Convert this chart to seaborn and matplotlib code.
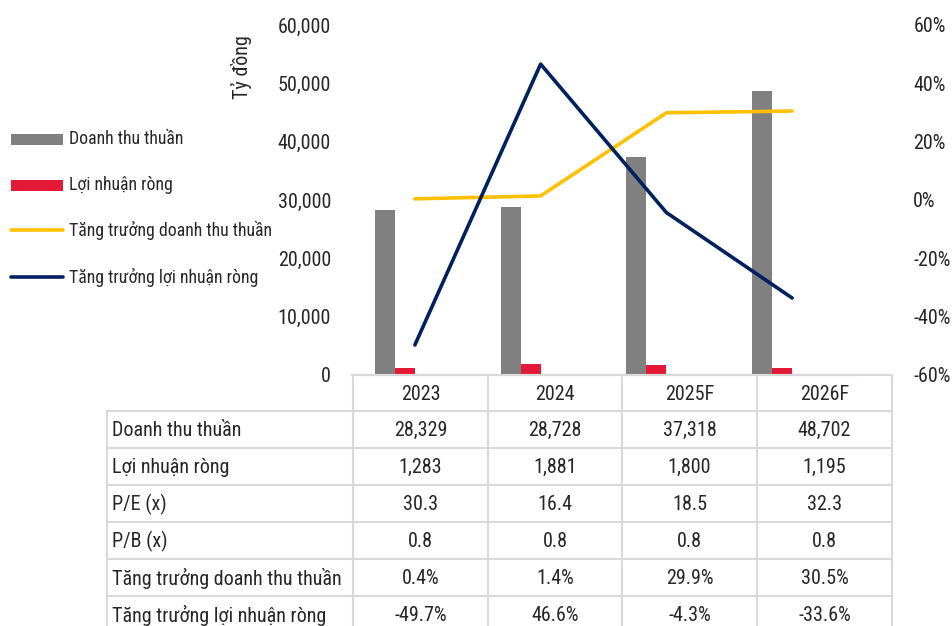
import matplotlib
matplotlib.use("Agg")
import matplotlib.pyplot as plt
import seaborn as sns
import pandas as pd
from matplotlib.patches import Rectangle
from matplotlib.lines import Line2D

# ---- data ----
years = ["2023", "2024", "2025F", "2026F"]
revenue = [28329, 28728, 37318, 48702]
profit = [1283, 1881, 1800, 1195]
pe = [30.3, 16.4, 18.5, 32.3]
pb = [0.8, 0.8, 0.8, 0.8]
rev_growth = [0.4, 1.4, 29.9, 30.5]
profit_growth = [-49.7, 46.6, -4.3, -33.6]
left_ticks = [0, 10000, 20000, 30000, 40000, 50000, 60000]
right_ticks = [-60, -40, -20, 0, 20, 40, 60]

lbl_rev = "Doanh thu thuần"
lbl_profit = "Lợi nhuận ròng"
lbl_rev_g = "Tăng trưởng doanh thu thuần"
lbl_profit_g = "Tăng trưởng lợi nhuận ròng"
row_labels = [lbl_rev, lbl_profit, "P/E (x)", "P/B (x)", lbl_rev_g, lbl_profit_g]

C_GRAY = "#808080"
C_RED = "#E31937"
C_YEL = "#FFC000"
C_NAVY = "#002060"
C_GRID = "#D9D9D9"

sns.set_theme(style="white")
FONT = ["Roboto Condensed", "DejaVu Sans"]
plt.rcParams["font.family"] = FONT
FS = 14.5
FS_LEG = 12.8

W, H = 953, 626
fig = plt.figure(figsize=(W / 100, H / 100), dpi=100)
fig.patch.set_facecolor("white")

x0, x1, ytop, ybot = 352, 855, 25, 375
ax = fig.add_axes([x0 / W, 1 - ybot / H, (x1 - x0) / W, (ybot - ytop) / H])

df = pd.DataFrame({
    "year": years * 4,
    "series": [lbl_rev] * 4 + [lbl_profit] * 4 + ["_a"] * 4 + ["_b"] * 4,
    "value": revenue + profit + [0] * 4 + [0] * 4,
})
sns.barplot(data=df, x="year", y="value", hue="series",
            hue_order=[lbl_rev, lbl_profit, "_a", "_b"],
            palette=[C_GRAY, C_RED, "white", "white"],
            width=0.635, gap=0, dodge=True, saturation=1, legend=False, ax=ax,
            linewidth=0)
ax.set_xlim(-0.5, 3.5)
ax.set_ylim(0, 60000)
ax.set_yticks(left_ticks)
ax.set_yticklabels([f"{v:,}" for v in left_ticks])
ax.tick_params(axis="y", length=0, pad=15, labelsize=FS)
ax.set_xticks([-0.5, 0.5, 1.5, 2.5, 3.5])
ax.set_xticklabels([])
ax.tick_params(axis="x", length=4, width=1.2, color=C_GRID, direction="out")
ax.set_xlabel("")
ax.set_ylabel("Tỷ đồng", fontsize=FS)
ax.yaxis.set_label_coords(-0.198, 0.88)
for s in ["top", "right", "left"]:
    ax.spines[s].set_visible(False)
ax.spines["bottom"].set_color(C_GRID)
ax.spines["bottom"].set_linewidth(1.5)

ax2 = ax.twinx()
xpos = list(range(len(years)))
sns.lineplot(x=xpos, y=[v / 100 for v in rev_growth], color=C_YEL, lw=2.6, ax=ax2,
             solid_capstyle="round")
sns.lineplot(x=xpos, y=[v / 100 for v in profit_growth], color=C_NAVY, lw=2.6, ax=ax2,
             solid_capstyle="round")
ax2.set_ylim(-0.6, 0.6)
ax2.set_yticks([v / 100 for v in right_ticks])
ax2.set_yticklabels([f"{v}%" for v in right_ticks], ha="left")
ax2.tick_params(axis="y", length=0, pad=42, labelsize=FS)
for s in ["top", "right", "left", "bottom"]:
    ax2.spines[s].set_visible(False)
ax2.set_xlim(-0.5, 3.5)

# ---- overlay in pixel coordinates for legend & table ----
ov = fig.add_axes([0, 0, 1, 1], zorder=5)
ov.set_xlim(0, W)
ov.set_ylim(H, 0)
ov.axis("off")
ov.patch.set_alpha(0)

# legend
leg_items = [(lbl_rev, "patch", C_GRAY, 139), (lbl_profit, "patch", C_RED, 185),
             (lbl_rev_g, "line", C_YEL, 230), (lbl_profit_g, "line", C_NAVY, 277)]
for text, kind, col, yy in leg_items:
    if kind == "patch":
        ov.add_patch(Rectangle((11, yy - 5.5), 52, 11, color=col, lw=0))
    else:
        ov.add_line(Line2D([11, 63], [yy, yy], color=col, lw=2.6, solid_capstyle="round"))
    ov.text(69, yy, text, fontsize=FS_LEG, va="center", ha="left")

# table
col_edges = [353, 488, 622, 757, 892]
lab_left = 107
row_edges = [375, 411, 448, 485, 522, 559, 596, 633]
lw_t = 1.5
ov.add_line(Line2D([col_edges[0], col_edges[-1]], [row_edges[0]] * 2, color=C_GRID, lw=lw_t))
for r in row_edges[1:]:
    ov.add_line(Line2D([lab_left, col_edges[-1]], [r, r], color=C_GRID, lw=lw_t))
for c in col_edges:
    ov.add_line(Line2D([c, c], [row_edges[0], H + 10], color=C_GRID, lw=lw_t))
ov.add_line(Line2D([lab_left, lab_left], [row_edges[1], H + 10], color=C_GRID, lw=lw_t))

for i, y in enumerate(years):
    cx = (col_edges[i] + col_edges[i + 1]) / 2
    ov.text(cx, (row_edges[0] + row_edges[1]) / 2 + 1, y, fontsize=FS, ha="center", va="center")

rows = [
    [f"{v:,}" for v in revenue],
    [f"{v:,}" for v in profit],
    [f"{v:.1f}" for v in pe],
    [f"{v:.1f}" for v in pb],
    [f"{v:.1f}%" for v in rev_growth],
    [f"{v:.1f}%" for v in profit_growth],
]
for r, (lab, vals) in enumerate(zip(row_labels, rows)):
    cy = (row_edges[r + 1] + row_edges[r + 2]) / 2 + 1
    ov.text(lab_left + 5, cy, lab, fontsize=FS, ha="left", va="center")
    for i, v in enumerate(vals):
        cx = (col_edges[i] + col_edges[i + 1]) / 2
        ov.text(cx, cy, v, fontsize=FS, ha="center", va="center")

fig.savefig("out.png", dpi=100, facecolor="white")
